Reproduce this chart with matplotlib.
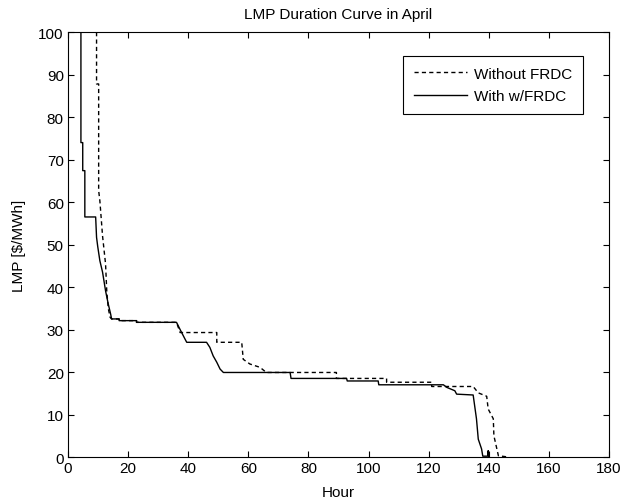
import matplotlib.pyplot as plt

plt.rcParams['font.family'] = ['Liberation Sans', 'DejaVu Sans']

# LMP duration curve points (hour, $/MWh)
hours_wo = [9.5, 9.5, 10.2, 10.2, 10.6, 11.5, 12.5, 12.9, 13.4, 14.0, 14.5, 17.0, 17.0,
            22.8, 22.8, 36.1, 37.3, 49.5, 49.5, 57.8, 58.3, 60.5, 63.9, 66.0,
            89.3, 89.3, 106.0, 106.0, 121.0, 121.0, 134.8, 136.5, 139.3, 139.8,
            141.5, 141.7, 143.2, 146.5]
lmp_wo = [100, 87.8, 87.8, 62.7, 60.3, 52.0, 45.4, 39.0, 35.0, 32.9, 32.5, 32.5, 32.1,
          32.1, 31.7, 31.7, 29.3, 29.3, 27.0, 27.0, 23.0, 21.9, 21.1, 19.9,
          19.9, 18.5, 18.5, 17.6, 17.6, 16.6, 16.6, 15.1, 14.3, 11.3,
          9.0, 5.0, 0.3, 0.0]

hours_with = [4.3, 4.3, 4.9, 4.9, 5.6, 5.6, 9.2, 9.5, 9.9, 10.6, 11.5, 12.5, 13.4, 14.2,
              14.5, 17.0, 17.0, 22.8, 22.8, 36.1, 37.3, 38.9, 39.5, 46.1, 47.2, 48.3,
              49.5, 50.6, 51.7, 73.9, 74.2, 92.7, 92.9, 103.2, 103.4, 124.9, 126.0,
              128.7, 129.3, 134.8, 135.9, 136.5, 137.6, 138.0, 139.6, 139.8, 140.0]
lmp_with = [100, 74.0, 74.0, 67.4, 67.4, 56.5, 56.5, 51.7, 49.5, 46.2, 43.5, 39.1, 36.0,
            33.6, 32.5, 32.5, 32.1, 32.1, 31.7, 31.7, 30.0, 27.8, 27.0, 27.0, 25.8, 23.8,
            22.3, 20.7, 19.9, 19.9, 18.5, 18.5, 17.9, 17.9, 17.0, 17.0, 16.4,
            15.6, 14.8, 14.6, 9.0, 4.2, 1.9, 0.2, 0.2, 1.5, 0.0]

fig = plt.figure(figsize=(6.21, 5.02), dpi=100)
ax = fig.add_axes([0.1095, 0.0876, 0.8712, 0.8464])

ax.plot(hours_wo, lmp_wo, color='black', linestyle='--', dashes=(3, 2.3), linewidth=1,
        label='Without FRDC')
ax.plot(hours_with, lmp_with, color='black', linestyle='-', linewidth=1,
        label='With w/FRDC')

ax.set_xlim(0, 180)
ax.set_ylim(0, 100)
ax.set_xticks(range(0, 181, 20))
ax.set_yticks(range(0, 101, 10))
ax.tick_params(direction='in', top=True, right=True, labelsize=11, length=4, pad=3)
ax.set_title('LMP Duration Curve in April', fontsize=11, pad=10)
ax.set_xlabel('Hour', fontsize=11, labelpad=7)
ax.set_ylabel('LMP [$/MWh]', fontsize=11, labelpad=9)

leg = ax.legend(loc='upper right', bbox_to_anchor=(0.952, 0.9435), fontsize=11,
                fancybox=False, framealpha=1, edgecolor='black', handlelength=3.5,
                handletextpad=0.45, borderpad=0.7, labelspacing=0.55,
                borderaxespad=0)
leg.get_frame().set_linewidth(0.8)

fig.savefig('out.png', dpi=100)
